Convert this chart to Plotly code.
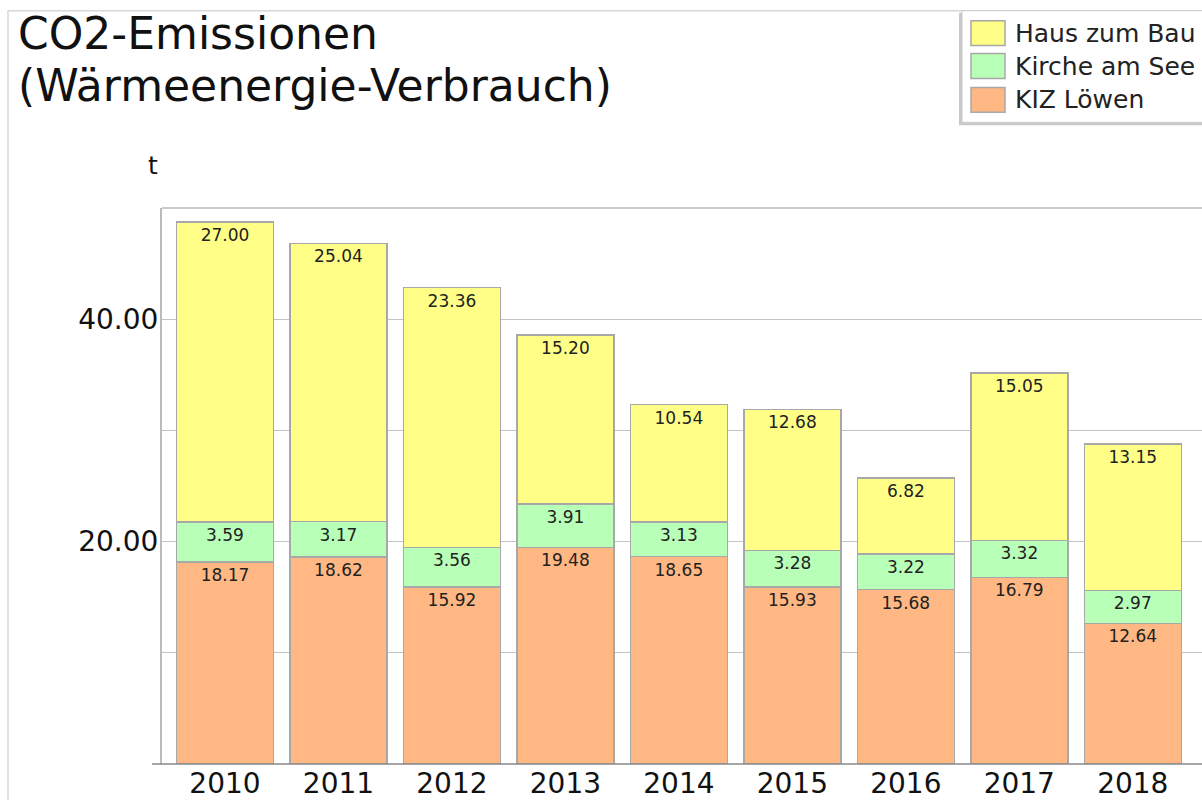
import plotly.graph_objects as go

years = ["2010", "2011", "2012", "2013", "2014", "2015", "2016", "2017", "2018"]
kiz_loewen = [18.17, 18.62, 15.92, 19.48, 18.65, 15.93, 15.68, 16.79, 12.64]
kirche_am_see = [3.59, 3.17, 3.56, 3.91, 3.13, 3.28, 3.22, 3.32, 2.97]
haus_zum_bau = [27.00, 25.04, 23.36, 15.20, 10.54, 12.68, 6.82, 15.05, 13.15]
series_names = ["KIZ Löwen", "Kirche am See", "Haus zum Bau"]
series_colors = ["#FFB784", "#B8FFB8", "#FFFF88"]
y_tickvals = [0, 10, 20, 30, 40, 50]
y_ticktext = ["", "", "20.00", "", "40.00", ""]
title_lines = ["CO2-Emissionen", "(Wärmeenergie-Verbrauch)"]

FONT = "DejaVu Sans"
W, H = 1202, 800
L, R, T, B = 162, 0, 208, 34
PW = W - L - R
PH = H - T - B


def xp(px):
    return (px - L) / PW


def yp(py):
    return (H - B - py) / PH


fig = go.Figure()
for name, vals, col in zip(series_names, [kiz_loewen, kirche_am_see, haus_zum_bau], series_colors):
    fig.add_trace(go.Bar(
        x=years, y=vals, name=name,
        marker=dict(color=col, line=dict(color="#A8A8A8", width=1.5)),
        text=[f"{v:.2f}" for v in vals],
        textposition="inside", insidetextanchor="end", textangle=0,
        constraintext="none",
        textfont=dict(family=FONT, size=17, color="#222222"),
        showlegend=False, width=0.855,
    ))

shapes = []
shapes.append(dict(type="rect", xref="paper", yref="paper", x0=xp(8), x1=xp(1230), y0=yp(10), y1=yp(830),
                   line=dict(color="#D8D8D8", width=1.5), fillcolor="rgba(0,0,0,0)", layer="below"))
shapes.append(dict(type="line", xref="paper", yref="paper", x0=0, x1=1.02, y0=1, y1=1,
                   line=dict(color="#BBBBBB", width=1.5), layer="below"))
shapes.append(dict(type="line", xref="paper", yref="paper", x0=xp(152), x1=1.02, y0=0, y1=0,
                   line=dict(color="#888888", width=1.5), layer="above"))

shapes.append(dict(type="rect", xref="paper", yref="paper", x0=xp(959), x1=xp(1230), y0=yp(12), y1=yp(125),
                   line=dict(width=0), fillcolor="#C8C8C8"))
shapes.append(dict(type="rect", xref="paper", yref="paper", x0=xp(962), x1=xp(1230), y0=yp(10), y1=yp(122),
                   line=dict(color="#CCCCCC", width=1), fillcolor="white"))

annotations = []
leg_centers = [99.5, 65.5, 32.5]
for name, col, cy in zip(series_names, series_colors, leg_centers):
    shapes.append(dict(type="rect", xref="paper", yref="paper", x0=xp(971), x1=xp(1005),
                       y0=yp(cy - 12.5), y1=yp(cy + 12.5),
                       line=dict(color="#A8A8A8", width=1.5), fillcolor=col))
    annotations.append(dict(xref="paper", yref="paper", x=xp(1013), y=yp(cy), text=name,
                            showarrow=False, xanchor="left", yanchor="middle",
                            font=dict(family=FONT, size=25, color="#222222")))

# two-line title: line spacing set by the outer font size (40px * 1.3 = 52px), glyphs at 44px
title_text = "<br>".join(f"<span style='font-size:44px'>{t}</span>" for t in title_lines)
annotations.append(dict(xref="paper", yref="paper", x=xp(16), y=yp(58.5), text=title_text,
                        showarrow=False, xanchor="left", yanchor="middle", align="left",
                        font=dict(family=FONT, size=40, color="#111111")))
annotations.append(dict(xref="paper", yref="paper", x=xp(153), y=yp(165), text="t",
                        showarrow=False, xanchor="center", yanchor="middle",
                        font=dict(family=FONT, size=25, color="#111111")))

fig.update_layout(
    width=W, height=H,
    margin=dict(l=L, r=R, t=T, b=B, pad=0),
    barmode="stack",
    paper_bgcolor="white", plot_bgcolor="white",
    shapes=shapes, annotations=annotations,
    font=dict(family=FONT, color="#111111"),
    xaxis=dict(range=[-0.555, 8.61], showgrid=False, showline=False, ticks="", ticklen=0,
               tickfont=dict(family=FONT, size=28, color="#111111"), fixedrange=True),
    yaxis=dict(range=[0, 50], tickvals=y_tickvals, ticktext=y_ticktext, showgrid=True,
               gridcolor="#C4C4C4", gridwidth=1, showline=True, linecolor="#BBBBBB", linewidth=2,
               ticks="", ticklen=0, zeroline=False, ticklabelstandoff=-4,
               tickfont=dict(family=FONT, size=28, color="#111111"), fixedrange=True),
    showlegend=False,
)

fig.write_html("out.html", config={"displayModeBar": False},
               post_script="document.body.style.margin='0';")
